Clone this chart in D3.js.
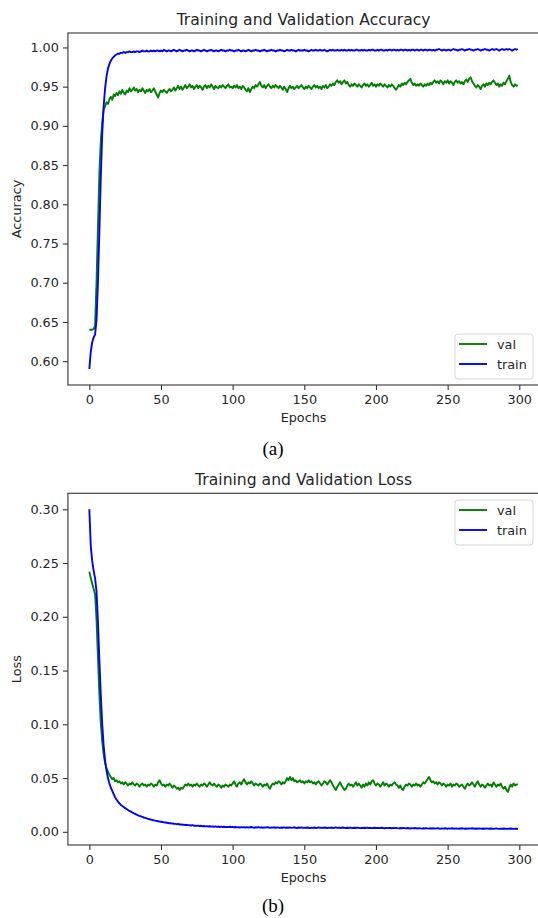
<!DOCTYPE html>
<html>
<head>
    <title>Training and Validation</title>
    <script src="https://d3js.org/d3.v7.min.js"></script>
    <style>
        body { margin: 0; background: #fff; }
        text { font-family: "DejaVu Sans", sans-serif; fill: #262626; }
        .caption { font-family: "Liberation Serif", "Times New Roman", serif; fill: #000; }
    </style>
</head>
<body>
    <svg width="538" height="918"></svg>

    <script>
        // epochs 0..299
        const epochs = d3.range(300);

        // accuracy - validation
        const valAcc = [
            0.640, 0.640, 0.640, 0.641, 0.645, 0.700, 0.770, 0.840, 0.880, 0.905,
            0.921, 0.925, 0.930, 0.928, 0.934, 0.937, 0.933, 0.940, 0.938, 0.942,
            0.939, 0.944, 0.941, 0.946, 0.942, 0.940, 0.945, 0.943, 0.948, 0.944,
            0.946, 0.949, 0.945, 0.947, 0.943, 0.946, 0.944, 0.948, 0.945, 0.942,
            0.946, 0.944, 0.947, 0.943, 0.945, 0.948, 0.944, 0.940, 0.936, 0.942,
            0.945, 0.943, 0.946, 0.944, 0.942, 0.945, 0.947, 0.944, 0.946, 0.949,
            0.945, 0.948, 0.951, 0.947, 0.950, 0.946, 0.949, 0.952, 0.948, 0.950,
            0.953, 0.949, 0.951, 0.947, 0.950, 0.952, 0.948, 0.951, 0.949, 0.946,
            0.950, 0.952, 0.948, 0.951, 0.949, 0.953, 0.950, 0.947, 0.951, 0.949,
            0.948, 0.951, 0.949, 0.952, 0.950, 0.948, 0.951, 0.953, 0.949, 0.950,
            0.948, 0.951, 0.949, 0.952, 0.948, 0.950, 0.947, 0.951, 0.949, 0.946,
            0.944, 0.948, 0.943, 0.947, 0.950, 0.948, 0.952, 0.950, 0.953, 0.956,
            0.951, 0.949, 0.952, 0.948, 0.951, 0.953, 0.950, 0.948, 0.951, 0.949,
            0.952, 0.950, 0.948, 0.951, 0.949, 0.946, 0.950, 0.947, 0.943, 0.948,
            0.951, 0.948, 0.950, 0.947, 0.949, 0.951, 0.948, 0.950, 0.952, 0.949,
            0.947, 0.950, 0.948, 0.951, 0.949, 0.947, 0.950, 0.952, 0.949, 0.951,
            0.948, 0.950, 0.947, 0.951, 0.949, 0.952, 0.948, 0.950, 0.953, 0.951,
            0.954, 0.952, 0.956, 0.958, 0.955, 0.957, 0.953, 0.956, 0.958, 0.954,
            0.956, 0.952, 0.950, 0.953, 0.951, 0.954, 0.952, 0.950, 0.953, 0.951,
            0.949, 0.952, 0.954, 0.951, 0.953, 0.950, 0.952, 0.955, 0.951, 0.953,
            0.950, 0.953, 0.951, 0.954, 0.952, 0.950, 0.953, 0.951, 0.949, 0.952,
            0.950, 0.953, 0.951, 0.948, 0.946, 0.949, 0.952, 0.950, 0.954, 0.952,
            0.955, 0.953, 0.956, 0.958, 0.960, 0.955, 0.952, 0.954, 0.951, 0.953,
            0.951, 0.954, 0.952, 0.950, 0.953, 0.951, 0.954, 0.952, 0.955, 0.953,
            0.956, 0.958, 0.955, 0.957, 0.954, 0.958, 0.956, 0.953, 0.957, 0.955,
            0.958, 0.954, 0.957, 0.955, 0.952, 0.956, 0.958, 0.955, 0.957, 0.954,
            0.956, 0.953, 0.957, 0.959, 0.956, 0.960, 0.962, 0.957, 0.954, 0.951,
            0.949, 0.952, 0.950, 0.947, 0.951, 0.953, 0.950, 0.954, 0.952, 0.955,
            0.953, 0.956, 0.958, 0.955, 0.952, 0.954, 0.950, 0.953, 0.951, 0.955,
            0.953, 0.957, 0.960, 0.964, 0.956, 0.952, 0.950, 0.953, 0.951, 0.952
        ];

        // accuracy - training
        const trainAcc = [
            0.590, 0.612, 0.624, 0.630, 0.634, 0.652, 0.700, 0.765, 0.835, 0.890,
            0.925, 0.948, 0.963, 0.973, 0.979, 0.983, 0.986, 0.988, 0.990, 0.991,
            0.992, 0.992, 0.993, 0.993, 0.994, 0.993, 0.994, 0.994, 0.995, 0.994,
            0.994, 0.995, 0.994, 0.995, 0.995, 0.994, 0.995, 0.996, 0.995, 0.995,
            0.996, 0.995, 0.995, 0.996, 0.995, 0.996, 0.995, 0.996, 0.996, 0.995,
            0.996, 0.995, 0.997, 0.996, 0.995, 0.996, 0.996, 0.995, 0.996, 0.997,
            0.996, 0.995, 0.996, 0.997, 0.996, 0.995, 0.996, 0.996, 0.997, 0.996,
            0.995, 0.996, 0.996, 0.995, 0.996, 0.997, 0.996, 0.996, 0.995, 0.996,
            0.997, 0.996, 0.995, 0.996, 0.996, 0.997, 0.996, 0.995, 0.996, 0.996,
            0.995, 0.996, 0.997, 0.996, 0.996, 0.995, 0.996, 0.996, 0.997, 0.996,
            0.996, 0.995, 0.996, 0.996, 0.997, 0.996, 0.995, 0.996, 0.996, 0.995,
            0.996, 0.997, 0.996, 0.995, 0.996, 0.996, 0.997, 0.996, 0.996, 0.995,
            0.996, 0.996, 0.997, 0.996, 0.995, 0.996, 0.996, 0.997, 0.996, 0.996,
            0.995, 0.996, 0.996, 0.997, 0.996, 0.996, 0.995, 0.996, 0.997, 0.996,
            0.996, 0.997, 0.996, 0.996, 0.995, 0.996, 0.997, 0.996, 0.996, 0.996,
            0.997, 0.996, 0.996, 0.995, 0.996, 0.997, 0.996, 0.996, 0.997, 0.996,
            0.996, 0.997, 0.996, 0.996, 0.997, 0.996, 0.995, 0.996, 0.997, 0.996,
            0.997, 0.996, 0.996, 0.997, 0.996, 0.996, 0.997, 0.996, 0.997, 0.996,
            0.996, 0.997, 0.996, 0.997, 0.996, 0.996, 0.997, 0.997, 0.996, 0.996,
            0.997, 0.996, 0.997, 0.996, 0.996, 0.997, 0.996, 0.997, 0.997, 0.996,
            0.996, 0.997, 0.996, 0.997, 0.997, 0.996, 0.996, 0.997, 0.996, 0.997,
            0.997, 0.996, 0.997, 0.997, 0.996, 0.997, 0.996, 0.997, 0.997, 0.996,
            0.997, 0.997, 0.996, 0.997, 0.996, 0.997, 0.997, 0.996, 0.997, 0.997,
            0.996, 0.997, 0.997, 0.996, 0.997, 0.997, 0.996, 0.997, 0.997, 0.996,
            0.997, 0.996, 0.997, 0.997, 0.998, 0.997, 0.996, 0.997, 0.997, 0.996,
            0.997, 0.997, 0.996, 0.997, 0.998, 0.997, 0.997, 0.996, 0.997, 0.997,
            0.998, 0.997, 0.996, 0.997, 0.997, 0.998, 0.997, 0.997, 0.996, 0.997,
            0.997, 0.998, 0.997, 0.996, 0.997, 0.997, 0.998, 0.997, 0.997, 0.996,
            0.997, 0.998, 0.997, 0.997, 0.998, 0.997, 0.996, 0.997, 0.998, 0.997,
            0.997, 0.998, 0.997, 0.998, 0.997, 0.996, 0.997, 0.998, 0.997, 0.998
        ];

        // loss - validation
        const valLoss = [
            0.242, 0.236, 0.231, 0.226, 0.221, 0.198, 0.163, 0.128, 0.101, 0.084,
            0.072, 0.064, 0.059, 0.056, 0.053, 0.051, 0.049, 0.050, 0.047, 0.048,
            0.046, 0.047, 0.045, 0.046, 0.044, 0.046, 0.045, 0.043, 0.045, 0.044,
            0.046, 0.044, 0.043, 0.045, 0.044, 0.042, 0.044, 0.045, 0.043, 0.044,
            0.042, 0.044, 0.043, 0.045, 0.044, 0.042, 0.044, 0.043, 0.046, 0.048,
            0.045, 0.043, 0.044, 0.042, 0.044, 0.043, 0.045, 0.043, 0.041, 0.043,
            0.042, 0.040, 0.041, 0.039, 0.041, 0.040, 0.042, 0.044, 0.043, 0.045,
            0.043, 0.044, 0.042, 0.044, 0.043, 0.045, 0.043, 0.042, 0.044, 0.043,
            0.045, 0.044, 0.042, 0.044, 0.046, 0.044, 0.043, 0.045, 0.043, 0.042,
            0.044, 0.043, 0.041, 0.043, 0.042, 0.044, 0.043, 0.042, 0.044, 0.043,
            0.045, 0.047, 0.044, 0.042, 0.045, 0.046, 0.044, 0.047, 0.049, 0.046,
            0.044, 0.046, 0.045, 0.047, 0.045, 0.043, 0.045, 0.044, 0.043, 0.045,
            0.044, 0.042, 0.044, 0.043, 0.045, 0.042, 0.040, 0.043, 0.045, 0.044,
            0.046, 0.045, 0.047, 0.046, 0.044, 0.046, 0.045, 0.047, 0.050, 0.048,
            0.051, 0.048, 0.050, 0.047, 0.048, 0.046, 0.047, 0.048, 0.046, 0.047,
            0.045, 0.047, 0.046, 0.048, 0.046, 0.047, 0.045, 0.046, 0.044, 0.046,
            0.047, 0.045, 0.043, 0.045, 0.047, 0.046, 0.044, 0.046, 0.048, 0.046,
            0.043, 0.041, 0.039, 0.042, 0.044, 0.046, 0.043, 0.041, 0.039, 0.040,
            0.043, 0.045, 0.043, 0.044, 0.042, 0.044, 0.046, 0.043, 0.045, 0.043,
            0.041, 0.044, 0.042, 0.045, 0.043, 0.046, 0.044, 0.047, 0.048, 0.045,
            0.043, 0.045, 0.044, 0.042, 0.044, 0.046, 0.043, 0.045, 0.044, 0.042,
            0.044, 0.043, 0.045, 0.046, 0.044, 0.043, 0.041, 0.043, 0.040, 0.039,
            0.042, 0.044, 0.043, 0.045, 0.044, 0.042, 0.044, 0.043, 0.045, 0.043,
            0.044, 0.042, 0.044, 0.046, 0.045, 0.047, 0.049, 0.051, 0.048, 0.046,
            0.047, 0.045, 0.046, 0.044, 0.046, 0.045, 0.043, 0.045, 0.044, 0.042,
            0.044, 0.043, 0.045, 0.042, 0.044, 0.043, 0.045, 0.044, 0.042, 0.043,
            0.044, 0.042, 0.040, 0.043, 0.045, 0.043, 0.044, 0.046, 0.044, 0.042,
            0.045, 0.047, 0.044, 0.042, 0.044, 0.043, 0.041, 0.043, 0.045, 0.043,
            0.044, 0.042, 0.046, 0.044, 0.042, 0.044, 0.043, 0.045, 0.042, 0.040,
            0.042, 0.039, 0.037, 0.041, 0.044, 0.042, 0.045, 0.043, 0.044, 0.044
        ];

        // loss - training
        const trainLoss = [
            0.300, 0.266, 0.252, 0.243, 0.236, 0.224, 0.196, 0.160, 0.127, 0.100,
            0.080, 0.066, 0.057, 0.050, 0.045, 0.041, 0.038, 0.035, 0.032, 0.030,
            0.0280, 0.0265, 0.0250, 0.0240, 0.0230, 0.0220, 0.0212, 0.0203, 0.0195, 0.0188,
            0.0180, 0.0172, 0.0166, 0.0160, 0.0153, 0.0148, 0.0143, 0.0138, 0.0133, 0.0129,
            0.0125, 0.0121, 0.0117, 0.0114, 0.0110, 0.0107, 0.0104, 0.0101, 0.0098, 0.0096,
            0.0093, 0.0091, 0.0088, 0.0086, 0.0084, 0.0082, 0.0080, 0.0079, 0.0077, 0.0075,
            0.0074, 0.0071, 0.0073, 0.0068, 0.0069, 0.0066, 0.0067, 0.0063, 0.0065, 0.0062,
            0.0061, 0.0059, 0.0062, 0.0057, 0.0058, 0.0055, 0.0057, 0.0054, 0.0056, 0.0052,
            0.0054, 0.0051, 0.0053, 0.0049, 0.0052, 0.0048, 0.0051, 0.0047, 0.0050, 0.0046,
            0.0049, 0.0045, 0.0048, 0.0044, 0.0047, 0.0043, 0.0046, 0.0044, 0.0047, 0.0043,
            0.0046, 0.0042, 0.0045, 0.0041, 0.0044, 0.0040, 0.0043, 0.0041, 0.0044, 0.0040,
            0.0043, 0.0039, 0.0042, 0.0045, 0.0041, 0.0038, 0.0042, 0.0040, 0.0043, 0.0039,
            0.0042, 0.0038, 0.0041, 0.0039, 0.0043, 0.0040, 0.0037, 0.0041, 0.0039, 0.0042,
            0.0038, 0.0041, 0.0039, 0.0036, 0.0040, 0.0038, 0.0041, 0.0037, 0.0040, 0.0038,
            0.0041, 0.0037, 0.0039, 0.0042, 0.0038, 0.0036, 0.0040, 0.0038, 0.0041, 0.0037,
            0.0039, 0.0036, 0.0040, 0.0038, 0.0035, 0.0039, 0.0037, 0.0040, 0.0036, 0.0038,
            0.0041, 0.0037, 0.0039, 0.0036, 0.0040, 0.0038, 0.0035, 0.0039, 0.0037, 0.0040,
            0.0036, 0.0038, 0.0041, 0.0037, 0.0039, 0.0036, 0.0038, 0.0040, 0.0037, 0.0035,
            0.0038, 0.0036, 0.0039, 0.0037, 0.0035, 0.0038, 0.0036, 0.0039, 0.0037, 0.0034,
            0.0037, 0.0035, 0.0038, 0.0036, 0.0039, 0.0035, 0.0037, 0.0034, 0.0036, 0.0038,
            0.0035, 0.0037, 0.0034, 0.0036, 0.0038, 0.0035, 0.0033, 0.0036, 0.0034, 0.0037,
            0.0035, 0.0033, 0.0036, 0.0034, 0.0037, 0.0034, 0.0032, 0.0035, 0.0033, 0.0036,
            0.0034, 0.0032, 0.0035, 0.0033, 0.0031, 0.0034, 0.0032, 0.0035, 0.0033, 0.0031,
            0.0034, 0.0032, 0.0030, 0.0033, 0.0031, 0.0034, 0.0032, 0.0030, 0.0033, 0.0031,
            0.0033, 0.0030, 0.0032, 0.0034, 0.0031, 0.0029, 0.0032, 0.0030, 0.0033, 0.0031,
            0.0029, 0.0032, 0.0030, 0.0033, 0.0031, 0.0029, 0.0032, 0.0030, 0.0028, 0.0031,
            0.0033, 0.0030, 0.0028, 0.0031, 0.0029, 0.0032, 0.0030, 0.0033, 0.0031, 0.0029,
            0.0031, 0.0029, 0.0032, 0.0030, 0.0028, 0.0031, 0.0029, 0.0032, 0.0030, 0.0028,
            0.0031, 0.0029, 0.0027, 0.0030, 0.0032, 0.0029, 0.0027, 0.0030, 0.0028, 0.0031,
            0.0029, 0.0027, 0.0030, 0.0028, 0.0031, 0.0029, 0.0027, 0.0030, 0.0028, 0.0026
        ];

        const xTicks = [0, 50, 100, 150, 200, 250, 300];
        const accTicks = [0.60, 0.65, 0.70, 0.75, 0.80, 0.85, 0.90, 0.95, 1.00];
        const lossTicks = [0.00, 0.05, 0.10, 0.15, 0.20, 0.25, 0.30];
        const seriesNames = ["val", "train"];
        const seriesColors = ["green", "blue"];

        const svg = d3.select("svg");
        svg.append("rect").attr("width", 538).attr("height", 918).attr("fill", "#fff");

        // matplotlib style autoscale: 5% margin each side
        function padded(lo, hi) {
            const m = (hi - lo) * 0.05;
            return [lo - m, hi + m];
        }

        function drawPanel(opts) {
            const left = 67.9, right = 539.3;
            const top = opts.top, bottom = opts.bottom;

            const x = d3.scaleLinear()
                .domain(padded(0, epochs.length - 1))
                .range([left, right]);

            const all = opts.series[0].concat(opts.series[1]);
            const y = d3.scaleLinear()
                .domain(padded(d3.min(all), d3.max(all)))
                .range([bottom, top]);

            const g = svg.append("g");

            const clipId = "clip" + opts.id;
            g.append("clipPath").attr("id", clipId)
                .append("rect")
                .attr("x", left).attr("y", top)
                .attr("width", right - left).attr("height", bottom - top);

            const line = d3.line()
                .x((d, i) => x(epochs[i]))
                .y(d => y(d));

            g.append("g").attr("clip-path", `url(#${clipId})`)
                .selectAll("path")
                .data(opts.series)
                .enter().append("path")
                .attr("d", line)
                .attr("fill", "none")
                .attr("stroke", (d, i) => seriesColors[i])
                .attr("stroke-width", 1.9)
                .attr("stroke-linejoin", "round");

            // spines
            g.append("rect")
                .attr("x", left).attr("y", top)
                .attr("width", right - left).attr("height", bottom - top)
                .attr("fill", "none")
                .attr("stroke", "#333")
                .attr("stroke-width", 1.1);

            const xAxis = g.append("g")
                .attr("transform", `translate(0,${bottom})`)
                .call(d3.axisBottom(x).tickValues(xTicks).tickSize(5).tickPadding(5).tickFormat(d3.format("d")));

            const yAxis = g.append("g")
                .attr("transform", `translate(${left},0)`)
                .call(d3.axisLeft(y).tickValues(opts.ticks).tickSize(5).tickPadding(4).tickFormat(d3.format(".2f")));

            [xAxis, yAxis].forEach(a => {
                a.select(".domain").remove();
                a.selectAll(".tick line").attr("stroke", "#333").attr("stroke-width", 1.1);
                a.selectAll(".tick text")
                    .attr("fill", "#333")
                    .style("font-family", "'DejaVu Sans', sans-serif")
                    .style("font-size", "12.8px");
            });

            g.append("text")
                .attr("x", (left + right) / 2)
                .attr("y", top - 8)
                .attr("text-anchor", "middle")
                .style("font-size", "15.6px")
                .text(opts.title);

            g.append("text")
                .attr("x", (left + right) / 2)
                .attr("y", bottom + 37)
                .attr("text-anchor", "middle")
                .style("font-size", "12.8px")
                .text("Epochs");

            g.append("text")
                .attr("transform", `translate(21,${(top + bottom) / 2}) rotate(-90)`)
                .attr("text-anchor", "middle")
                .style("font-size", "12.8px")
                .text(opts.ylabel);

            // legend
            const lg = g.append("g").attr("transform", `translate(455,${opts.legendTop})`);
            lg.append("rect")
                .attr("width", 78).attr("height", 45)
                .attr("rx", 3)
                .attr("fill", "#fff").attr("fill-opacity", 0.8)
                .attr("stroke", "#d6d6d6");
            seriesNames.forEach((name, i) => {
                lg.append("line")
                    .attr("x1", 4).attr("x2", 32)
                    .attr("y1", 10 + i * 20).attr("y2", 10 + i * 20)
                    .attr("stroke", seriesColors[i])
                    .attr("stroke-width", 1.9);
                lg.append("text")
                    .attr("x", 42).attr("y", 14.5 + i * 20)
                    .style("font-size", "12.8px")
                    .text(name);
            });

            svg.append("text")
                .attr("class", "caption")
                .attr("x", 273)
                .attr("y", opts.captionY)
                .attr("text-anchor", "middle")
                .style("font-size", "19px")
                .text(opts.caption);
        }

        drawPanel({
            id: "a", top: 33, bottom: 385,
            series: [valAcc, trainAcc], ticks: accTicks,
            title: "Training and Validation Accuracy", ylabel: "Accuracy",
            legendTop: 334, caption: "(a)", captionY: 455
        });

        drawPanel({
            id: "b", top: 493.3, bottom: 845,
            series: [valLoss, trainLoss], ticks: lossTicks,
            title: "Training and Validation Loss", ylabel: "Loss",
            legendTop: 500, caption: "(b)", captionY: 912
        });
    </script>
</body>
</html>
